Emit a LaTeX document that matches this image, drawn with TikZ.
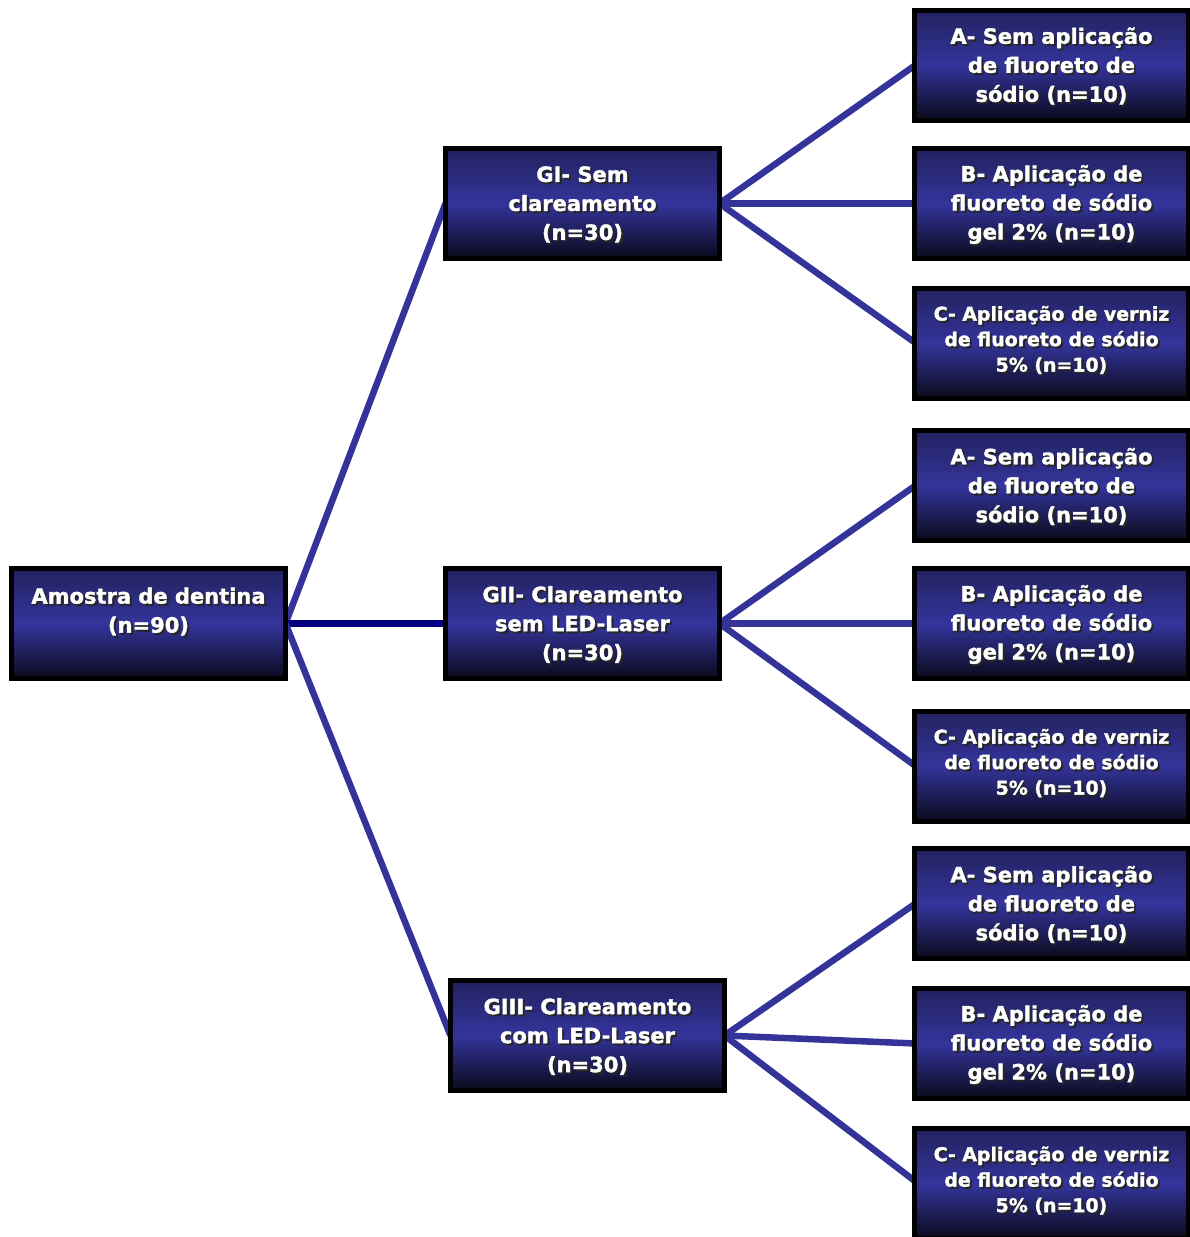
\documentclass[tikz,border=0pt]{standalone}
\usepackage{fontspec}
\setmainfont{DejaVu Sans}[BoldFeatures={FakeBold=1.6}]
\definecolor{boxtop}{HTML}{22225F}
\definecolor{boxmid}{HTML}{34349C}
\definecolor{boxbot}{HTML}{0A0A1C}
\definecolor{linkc}{HTML}{333399}
\definecolor{navyc}{HTML}{000080}
\newcommand\bigf{\fontsize{21}{29}\selectfont}
\newcommand\smallf{\fontsize{18.9}{25.5}\selectfont}
\tikzset{
  bx/.style={rectangle, draw=black, line width=5pt, minimum width=274pt, minimum height=110pt,
    inner sep=0pt, top color=boxtop, bottom color=boxbot, middle color=boxmid},
  tx/.style={align=center, inner sep=0pt},
  link/.style={draw=linkc, line width=6.5pt},
  navylink/.style={draw=navyc, line width=6.5pt}
}
% name, x, y, text dy, font, text
\newcommand\tbox[6]{%
  \node[bx] (#1) at (#2,#3) {};
  \node[tx, font={\bfseries#5}, text=black!85] (#1s) at ([shift={(2,#4+2)}]#1.center) {#6};
  \node[tx, font={\bfseries#5}, text=white] (#1t) at ([shift={(0,#4)}]#1.center) {#6};
}
\begin{document}
\begin{tikzpicture}[x=1pt, y=-1pt]
\path[use as bounding box, clip] (0,0) rectangle (1190,1237);
\fill[white] (0,0) rectangle (1190,1237);
% lines
\draw[link] (285.5,623.5) coordinate (rE) -- (445.5,203.5) coordinate (g1W);
\draw[navylink] (rE) -- (445.5,623.5);
\draw[link] (rE) -- (450.5,1035.5);
\foreach \gy/\ay/\by/\cy in {203.5/65/203.5/343, 623.5/485.5/623.5/766}{
  \draw[link] (719.5,\gy) -- (915.5,\ay);
  \draw[link] (719.5,\gy) -- (915.5,\by);
  \draw[link] (719.5,\gy) -- (915.5,\cy);
}
\draw[link] (724.5,1035.5) -- (915.5,903.5);
\draw[link] (724.5,1035.5) -- (915.5,1043.5);
\draw[link] (724.5,1035.5) -- (915.5,1181.5);
% boxes
\tbox{root}{148.5}{623.5}{-12}{\bigf}{Amostra de dentina\\(n=90)}
\tbox{g1}{582.5}{203.5}{1}{\bigf}{GI- Sem\\clareamento\\(n=30)}
\tbox{g2}{582.5}{623.5}{1}{\bigf}{GII- Clareamento\\sem LED-Laser\\(n=30)}
\tbox{g3}{587.5}{1035.5}{1}{\bigf}{GIII- Clareamento\\com LED-Laser\\(n=30)}
\tbox{a1}{1051.5}{65}{1}{\bigf}{A- Sem aplicação\\de fluoreto de\\sódio (n=10)}
\tbox{b1}{1051.5}{203.5}{1}{\bigf}{B- Aplicação de\\fluoreto de sódio\\gel 2\% (n=10)}
\tbox{c1}{1051.5}{343}{-3}{\smallf}{C- Aplicação de verniz\\de fluoreto de sódio\\5\% (n=10)}
\tbox{a2}{1051.5}{485.5}{1}{\bigf}{A- Sem aplicação\\de fluoreto de\\sódio (n=10)}
\tbox{b2}{1051.5}{623.5}{1}{\bigf}{B- Aplicação de\\fluoreto de sódio\\gel 2\% (n=10)}
\tbox{c2}{1051.5}{766}{-3}{\smallf}{C- Aplicação de verniz\\de fluoreto de sódio\\5\% (n=10)}
\tbox{a3}{1051.5}{903.5}{1}{\bigf}{A- Sem aplicação\\de fluoreto de\\sódio (n=10)}
\tbox{b3}{1051.5}{1043.5}{1}{\bigf}{B- Aplicação de\\fluoreto de sódio\\gel 2\% (n=10)}
\tbox{c3}{1051.5}{1183.5}{-3}{\smallf}{C- Aplicação de verniz\\de fluoreto de sódio\\5\% (n=10)}
\end{tikzpicture}
\end{document}
